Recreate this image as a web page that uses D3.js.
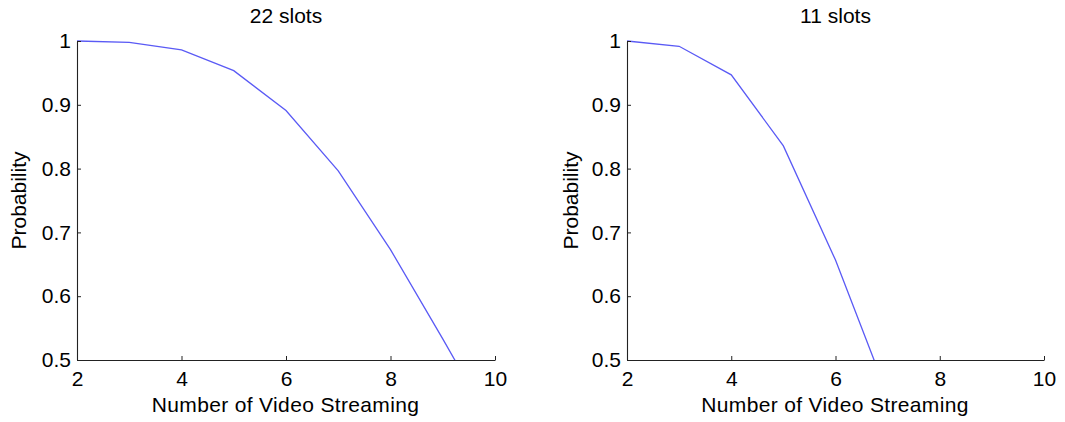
<!DOCTYPE html>
<html>
<head>
<meta charset="utf-8">
<script src="https://cdn.jsdelivr.net/npm/d3@7"></script>
<style>
  html, body { margin: 0; padding: 0; background: #fff; }
  svg { display: block; }
  text { font-family: "Liberation Sans", Arial, Helvetica, sans-serif; fill: #000; }
</style>
</head>
<body>
<svg id="chart" width="1065" height="422"></svg>
<script>
// Data
const streams = [2, 3, 4, 5, 6, 7, 8, 9, 10];
const prob22 = [1.0, 0.998, 0.986, 0.9535, 0.891, 0.7965, 0.673, 0.533, 0.39];
const streams11 = [2, 3, 4, 5, 6, 7];
const prob11 = [1.0, 0.9917, 0.947, 0.8356, 0.6566, 0.445];
const xTicks = [2, 4, 6, 8, 10];
const yTicks = [0.5, 0.6, 0.7, 0.8, 0.9, 1];
const titles = ["22 slots", "11 slots"];
const xLabel = "Number of Video Streaming";
const yLabel = "Probability";

(function () {
const panels = [
  { title: titles[0], xs: streams, ys: prob22, left: 77, right: 495, ylabX: 26 },
  { title: titles[1], xs: streams11, ys: prob11, left: 627, right: 1044, ylabX: 578 }
];
const plotTop = 41, plotBottom = 360;
const svg = d3.select("#chart");
const fs = 21;

panels.forEach((p, i) => {
  const x = d3.scaleLinear().domain([2, 10]).range([p.left, p.right]);
  const y = d3.scaleLinear().domain([0.5, 1]).range([plotBottom, plotTop]);

  const clipId = "clip" + i;
  svg.append("clipPath").attr("id", clipId)
    .append("rect").attr("x", p.left).attr("y", plotTop - 2)
    .attr("width", p.right - p.left).attr("height", plotBottom - plotTop + 2);

  // data line
  const line = d3.line().x(d => x(d[0])).y(d => y(d[1]));
  svg.append("path")
    .datum(p.xs.map((v, k) => [v, p.ys[k]]))
    .attr("clip-path", `url(#${clipId})`)
    .attr("d", line)
    .attr("fill", "none")
    .attr("stroke", "#5a5af5")
    .attr("stroke-width", 1.3);

  // x axis
  const xAxis = d3.axisBottom(x).tickValues(xTicks).tickSizeInner(-4).tickSizeOuter(0)
    .tickPadding(10).tickFormat(d3.format("d"));
  const gx = svg.append("g").attr("transform", `translate(0,${plotBottom})`).call(xAxis);
  gx.select(".domain").attr("stroke", "#222").attr("stroke-width", 1.1);
  gx.selectAll(".tick line").attr("stroke", "#222");
  gx.selectAll(".tick text").attr("font-size", fs).attr("dy", "0.71em")
    .attr("y", 11).style("font-family", "'Liberation Sans', Arial, sans-serif");

  // y axis
  const yAxis = d3.axisLeft(y).tickValues(yTicks).tickSizeInner(-4).tickSizeOuter(0)
    .tickPadding(8).tickFormat(d => d === 1 ? "1" : d3.format(".1f")(d));
  const gy = svg.append("g").attr("transform", `translate(${p.left},0)`).call(yAxis);
  gy.select(".domain").attr("stroke", "#222").attr("stroke-width", 1.1);
  gy.selectAll(".tick line").attr("stroke", "#222");
  gy.selectAll(".tick text").attr("font-size", fs).attr("x", -6)
    .style("font-family", "'Liberation Sans', Arial, sans-serif");

  // title
  svg.append("text").attr("x", (p.left + p.right) / 2).attr("y", 23)
    .attr("text-anchor", "middle").attr("font-size", fs).text(p.title);

  // x label
  svg.append("text").attr("x", (p.left + p.right) / 2 - 0.5).attr("y", 412)
    .attr("text-anchor", "middle").attr("font-size", fs)
    .attr("letter-spacing", "0.35px").text(xLabel);

  // y label
  svg.append("text")
    .attr("transform", `translate(${p.ylabX},${(plotTop + plotBottom) / 2}) rotate(-90)`)
    .attr("text-anchor", "middle").attr("font-size", fs).text(yLabel);
});
})();
</script>
</body>
</html>
